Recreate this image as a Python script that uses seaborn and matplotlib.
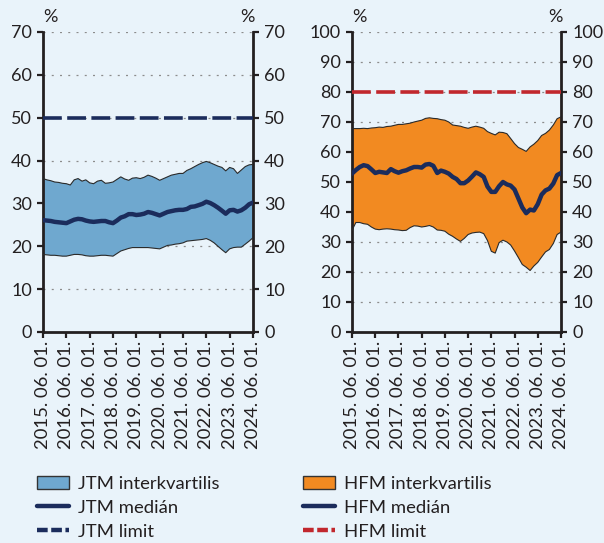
import numpy as np
import pandas as pd
import matplotlib
matplotlib.use("Agg")
import matplotlib.pyplot as plt
import matplotlib.dates as mdates
from matplotlib.patches import Patch
from matplotlib.lines import Line2D
import seaborn as sns

# ---------------- data (every 2 months, 2015-06 .. 2024-06) ----------------
dates = pd.date_range("2015-06-01", periods=55, freq="2MS")

jtm_p75 = [35.8, 35.5, 35.3, 35.0, 34.9, 34.7, 34.6, 34.3, 35.5, 35.8, 35.2, 35.5, 34.8, 34.6,
           35.2, 35.4, 34.7, 34.8, 35.0, 35.6, 36.2, 35.7, 35.4, 35.9, 36.0, 35.8, 36.1, 36.6,
           36.3, 35.9, 35.4, 35.8, 36.2, 36.6, 36.8, 37.0, 37.0, 37.7, 38.1, 38.6, 39.1, 39.5,
           39.8, 39.5, 39.1, 38.7, 38.4, 37.6, 38.4, 38.1, 37.0, 37.8, 38.6, 39.0, 39.1]
jtm_median = [26.1, 26.0, 25.9, 25.7, 25.6, 25.5, 25.4, 25.8, 26.2, 26.4, 26.3, 26.0, 25.8, 25.7,
              25.8, 25.9, 25.9, 25.6, 25.4, 26.0, 26.7, 27.0, 27.5, 27.5, 27.3, 27.4, 27.6, 28.0,
              27.8, 27.5, 27.2, 27.6, 28.0, 28.2, 28.4, 28.5, 28.5, 28.7, 29.2, 29.3, 29.6, 29.9,
              30.4, 30.1, 29.6, 29.0, 28.3, 27.6, 28.4, 28.5, 28.1, 28.4, 29.0, 29.8, 30.2]
jtm_p25 = [18.1, 18.0, 17.9, 17.9, 17.8, 17.7, 17.7, 17.9, 18.1, 18.1, 18.0, 17.8, 17.7, 17.7,
           17.8, 17.9, 17.9, 17.8, 17.7, 18.3, 18.9, 19.2, 19.5, 19.7, 19.7, 19.7, 19.7, 19.7,
           19.6, 19.5, 19.4, 19.8, 20.2, 20.3, 20.5, 20.6, 20.8, 21.2, 21.3, 21.4, 21.5, 21.6,
           21.8, 21.4, 20.8, 20.0, 19.2, 18.5, 19.4, 19.7, 19.8, 19.8, 20.5, 21.2, 22.0]
jtm_limit = 50

hfm_p75 = [67.8, 67.8, 67.8, 67.9, 67.8, 68.0, 68.1, 68.3, 68.2, 68.5, 68.6, 68.9, 69.2, 69.2,
           69.4, 69.6, 70.0, 70.3, 70.6, 71.2, 71.4, 71.2, 71.1, 70.8, 70.6, 70.0, 69.0, 68.8,
           68.6, 68.2, 67.9, 68.3, 68.6, 68.3, 67.9, 66.8, 66.2, 65.7, 66.6, 66.5, 66.1, 64.5,
           62.8, 61.5, 60.9, 60.2, 61.7, 62.6, 63.8, 65.5, 66.2, 67.3, 69.0, 71.1, 71.7]
hfm_median = [52.8, 54.0, 55.0, 55.6, 55.3, 54.2, 53.0, 53.4, 53.2, 53.0, 54.3, 53.6, 53.1, 53.6,
              53.9, 54.5, 55.0, 55.0, 54.8, 55.8, 56.0, 55.4, 53.0, 53.8, 53.4, 52.8, 51.7, 51.0,
              49.6, 49.6, 50.5, 51.8, 53.2, 52.6, 51.7, 48.5, 46.7, 46.7, 48.6, 50.0, 49.2, 48.8,
              47.5, 44.5, 41.5, 39.6, 40.8, 40.5, 42.6, 45.8, 47.2, 47.8, 49.5, 52.3, 53.0]
hfm_p25 = [33.9, 36.5, 36.5, 36.1, 35.9, 35.0, 34.3, 34.1, 34.3, 34.4, 34.3, 34.1, 34.0, 33.8,
           33.9, 34.8, 35.4, 35.3, 35.0, 35.2, 35.5, 35.0, 34.0, 33.9, 33.6, 32.6, 31.9, 31.0,
           30.2, 31.2, 32.5, 33.0, 33.2, 33.3, 32.8, 30.5, 26.9, 26.3, 29.8, 30.6, 30.0, 29.0,
           27.0, 24.8, 22.5, 21.6, 20.5, 22.0, 23.2, 25.0, 26.7, 27.5, 29.5, 32.5, 33.3]
hfm_limit = 80

tick_years = list(range(2015, 2025))
labels_jtm = ["JTM interkvartilis", "JTM medián", "JTM limit"]
labels_hfm = ["HFM interkvartilis", "HFM medián", "HFM limit"]

# ---------------- style ----------------
BG = "#E9F3FA"
BLUE = "#6FA8CF"
ORANGE = "#F28A21"
NAVY = "#1B2C5C"
RED = "#C1272D"
INK = "#231F20"
FS = 13.3

sns.set_theme(style="white")
plt.rcParams["font.family"] = ["Lato", "DejaVu Sans"]
plt.rcParams["text.color"] = INK

fig = plt.figure(figsize=(6.04, 5.43), dpi=100)
fig.patch.set_facecolor(BG)

W, H = 604, 543


def make_ax(x0, x1, y_top, y_bot):
    return fig.add_axes([x0 / W, 1 - y_bot / H, (x1 - x0) / W, (y_bot - y_top) / H])


ax1 = make_ax(43, 253, 32, 332)
ax2 = make_ax(352, 561, 32, 332)

df_j = pd.DataFrame({"date": dates, "p25": jtm_p25, "med": jtm_median, "p75": jtm_p75})
df_h = pd.DataFrame({"date": dates, "p25": hfm_p25, "med": hfm_median, "p75": hfm_p75})


def draw(ax, df, fill, limit, limit_color, ymax):
    ax.set_facecolor(BG)
    for v in range(10, ymax + 1, 10):
        ax.axhline(v, color="#8C8C8C", lw=0.9, dashes=(1.6, 5.0), zorder=1)
    ax.fill_between(df["date"], df["p25"], df["p75"], facecolor=fill, edgecolor="none", zorder=2)
    sns.lineplot(data=df, x="date", y="p75", ax=ax, color="#2A2A2A", lw=0.8, zorder=3)
    sns.lineplot(data=df, x="date", y="p25", ax=ax, color="#2A2A2A", lw=0.8, zorder=3)
    sns.lineplot(data=df, x="date", y="med", ax=ax, color=NAVY, lw=3.2, zorder=4)
    ax.axhline(limit, color=limit_color, lw=2.6, dashes=(5.2, 1.5), zorder=4)

    ax.set_xlim(pd.Timestamp("2015-06-01"), pd.Timestamp("2024-06-01"))
    ax.set_ylim(0, ymax)
    ax.set_yticks(range(0, ymax + 1, 10))
    ax.set_xticks([pd.Timestamp(f"{y}-06-01") for y in tick_years])
    ax.xaxis.set_major_formatter(mdates.DateFormatter("%Y. %m. %d."))
    ax.set_xlabel("")
    ax.set_ylabel("")
    for side in ["left", "right", "bottom"]:
        ax.spines[side].set_visible(True)
        ax.spines[side].set_color(INK)
        ax.spines[side].set_linewidth(2.0)
    ax.spines["top"].set_visible(False)
    ax.tick_params(axis="y", which="both", left=True, right=True, labelleft=True, labelright=True,
                   direction="out", length=4.5, width=1.6, color=INK, labelsize=13,
                   labelcolor=INK, pad=3.5)
    ax.tick_params(axis="x", bottom=True, direction="out", length=4.5, width=1.6, color=INK,
                   labelsize=FS, labelcolor=INK, labelrotation=90, pad=2)
    ax.grid(False)


draw(ax1, df_j, BLUE, jtm_limit, NAVY, 70)
draw(ax2, df_h, ORANGE, hfm_limit, RED, 100)

for xp in (50, 247, 359, 555):
    fig.text(xp / W, 1 - 17 / H, "%", ha="center", va="center", fontsize=13, color=INK)


def legend(fill, limit_color, labels, x0):
    handles = [
        Patch(facecolor=fill, edgecolor="#333333", lw=1.0),
        Line2D([], [], color=NAVY, lw=3.2),
        Line2D([], [], color=limit_color, lw=3.2, dashes=(2.4, 0.8)),
    ]
    fig.legend(handles, labels, loc="upper left", bbox_to_anchor=(x0 / W, 1 - 476 / H),
               frameon=False, fontsize=FS, handlelength=1.75, handleheight=0.7,
               handletextpad=0.45, labelspacing=0.42, borderpad=0, borderaxespad=0,
               labelcolor=INK)


legend(BLUE, NAVY, labels_jtm, 37)
legend(ORANGE, RED, labels_hfm, 303)

fig.savefig("out.png", dpi=100, facecolor=BG)
